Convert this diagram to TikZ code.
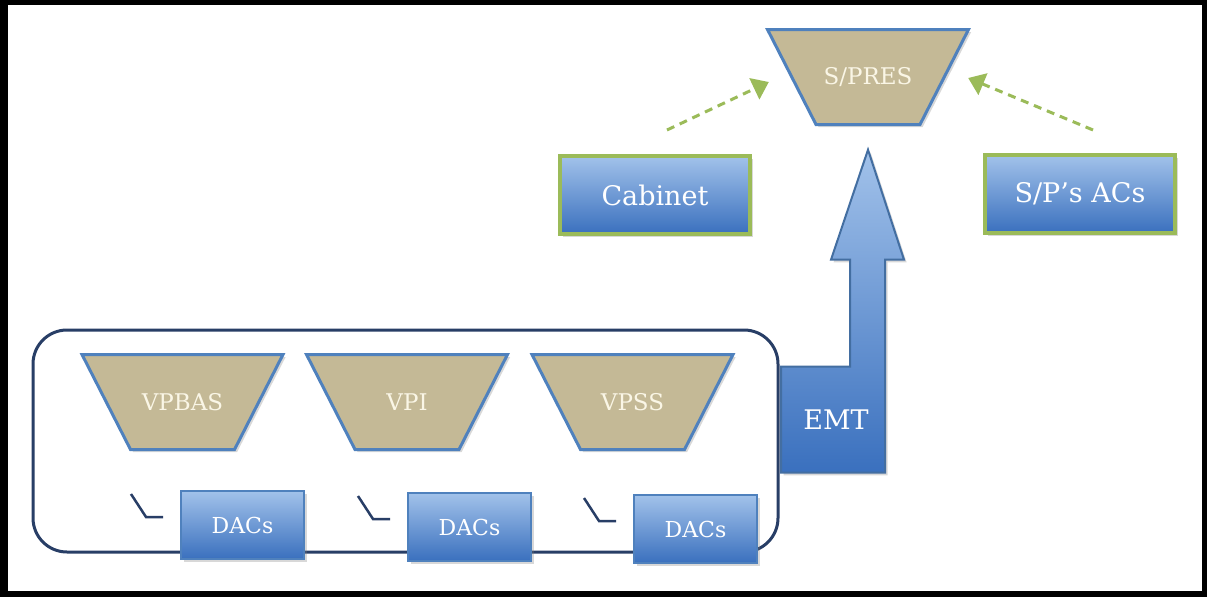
\documentclass[tikz,border=0pt]{standalone}
\usepackage{fontspec}
\setmainfont{DejaVu Serif}
\usepackage{tikz}
\usetikzlibrary{positioning,arrows.meta,shapes.geometric,shadows,calc}
\definecolor{tan}{RGB}{196,185,150}
\definecolor{edgeblue}{RGB}{79,129,189}
\definecolor{leaf}{RGB}{155,187,89}
\definecolor{boxtop}{RGB}{162,194,234}
\definecolor{boxbot}{RGB}{58,112,190}
\definecolor{navy}{RGB}{40,62,102}
\definecolor{cream}{RGB}{250,246,230}

\begin{document}
\begin{tikzpicture}[x=1pt, y=-1pt, >=Stealth,
    trapline/.style={fill=tan, draw=edgeblue, line width=3pt, drop shadow={opacity=.3}},
    traptext/.style={text=cream, minimum width=150pt, minimum height=95pt,
        inner sep=0pt, font=\fontsize{23}{26}\selectfont},
    bluebox/.style={rectangle, top color=boxtop, bottom color=boxbot,
        draw=leaf, line width=4pt, text=white, minimum width=190pt,
        minimum height=78pt, font=\fontsize{27}{30}\selectfont,
        drop shadow={opacity=.3}},
    dacbox/.style={rectangle, top color=boxtop, bottom color=boxbot,
        draw=edgeblue, line width=2pt, text=white, minimum width=123pt,
        minimum height=68pt, font=\fontsize{22}{25}\selectfont,
        drop shadow={opacity=.3}},
    dasharrow/.style={draw=leaf, line width=3pt, dash pattern=on 8pt off 6pt,
        -{Triangle[length=16pt,width=23pt]}},
    hook/.style={draw=navy, line width=2.5pt}]
    % Frame
    \useasboundingbox (0,0) rectangle (1207,597);
    \fill[black] (0,0) rectangle (1207,597);
    \fill[white] (8,5) rectangle (1202,591);

    % Group
    \node[draw=navy, line width=3pt, rounded corners=34pt, minimum width=745pt,
        minimum height=222pt] (grp) at (405.5,441) {};

    % Trapezia
    \foreach \n/\x/\y/\t in {spres/868/77/{S/PRES}, vpbas/182.5/402/VPBAS,
            vpi/407/402/VPI, vpss/632.5/402/VPSS} {
        \draw[trapline] (\x-100.5,\y-47.5) -- (\x+100.5,\y-47.5)
            -- (\x+52,\y+47.5) -- (\x-52,\y+47.5) -- cycle;
        \node[traptext] (\n) at (\x,\y) {\t};
    }

    % Boxes
    \node[bluebox] (cab) at (655,195) {Cabinet};
    \node[bluebox] (acs) at (1080,194) {S/P’s ACs};
    \node[dacbox] (dac1) at (242.5,525) {DACs};
    \node[dacbox] (dac2) at (469.5,527) {DACs};
    \node[dacbox] (dac3) at (695.5,529) {DACs};
    \foreach \d in {dac1,dac2,dac3}
        \draw[hook] ($(\d.west)+(-49,-31)$) -- ++(15,23) -- ++(17,0);

    % Dashed arrows
    \draw[dasharrow] ($(cab.north)+(12,-24)$) -- ($(spres.west)+(-24,5)$);
    \draw[dasharrow] ($(acs.north)+(13,-23)$) -- ($(spres.east)+(25,1)$);

    % EMT
    \coordinate (emttip) at ($(spres.south)+(0,25)$);
    \draw[top color=boxtop, bottom color=boxbot, draw=edgeblue!85!black,
        line width=2pt, drop shadow={opacity=.3}]
        (emttip) -- ++(36,110) -- ++(-19,0) -- ++(0,213) -- ++(-104,0)
        -- ++(0,-106) -- ++(69,0) -- ++(0,-107) -- ++(-19,0) -- cycle;
    \node[text=white, font=\fontsize{27}{30}\selectfont] (emt) at (836,420) {EMT};
\end{tikzpicture}
\end{document}
